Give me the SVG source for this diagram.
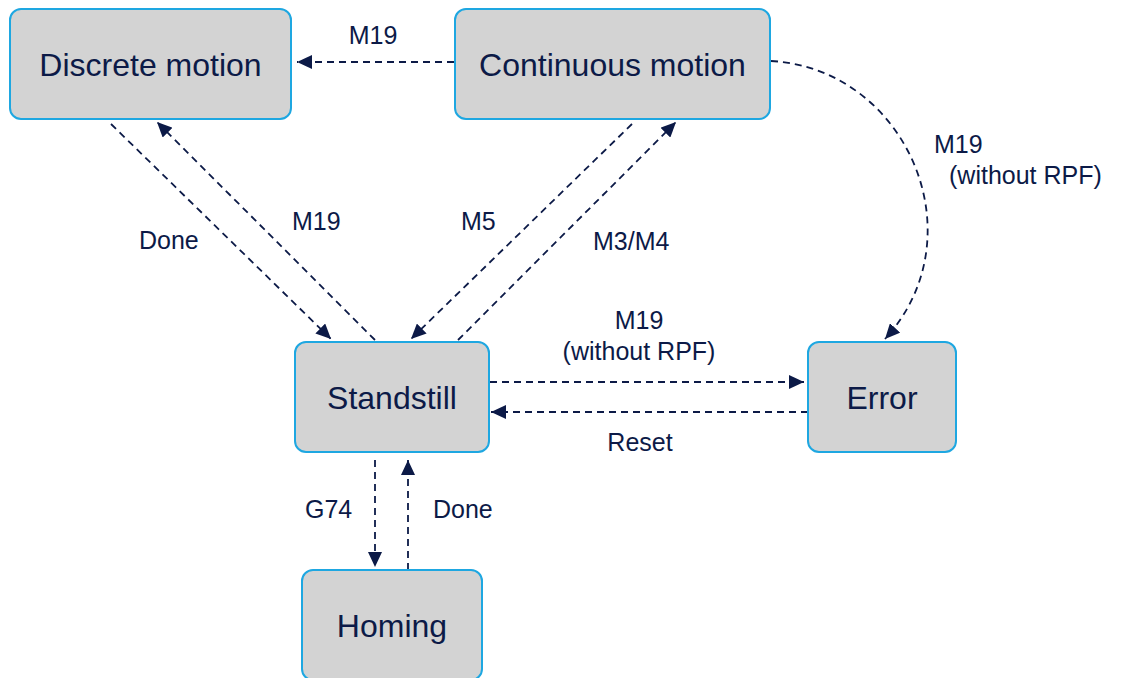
<svg xmlns="http://www.w3.org/2000/svg" width="1124" height="678" viewBox="0 0 1124 678">
<style>
.node rect{fill:#d3d3d3;stroke:#1ea7e1;stroke-width:2}
.node text{font-family:"Liberation Sans",Arial,sans-serif;font-size:32px;fill:#0c1a47;text-anchor:middle}
.lbl{font-family:"Liberation Sans",Arial,sans-serif;font-size:25px;fill:#0c1a47}
.mid{text-anchor:middle}
.conn path{fill:none;stroke:#0c1a47;stroke-width:1.8;stroke-dasharray:7 5;marker-end:url(#ah)}
</style>
<defs>
<marker id="ah" markerUnits="userSpaceOnUse" markerWidth="16" markerHeight="14" refX="15" refY="7" orient="auto">
<path d="M0,0 L15,7 L0,14 Z" fill="#0c1a47"/>
</marker>
</defs>
<rect width="1124" height="678" fill="#ffffff"/>
<g id="connectors" class="conn">
<path d="M454,62 L297,62"/>
<path d="M111,124 L331,339"/>
<path d="M375,340 L157,122"/>
<path d="M632,124 L411,339"/>
<path d="M458,340 L676,122"/>
<path d="M490,382 L804,382"/>
<path d="M808,412 L491,412"/>
<path d="M375,460 L375,567"/>
<path d="M408,570 L408,460"/>
<path d="M771,61 C905,68 980,235 885,339"/>
</g>
<g id="labels">
<text class="lbl mid" x="373" y="44">M19</text>
<text class="lbl" x="139" y="249">Done</text>
<text class="lbl" x="292" y="230">M19</text>
<text class="lbl" x="461" y="230">M5</text>
<text class="lbl" x="593" y="250">M3/M4</text>
<text class="lbl mid" x="639" y="329">M19</text>
<text class="lbl mid" x="639" y="360">(without RPF)</text>
<text class="lbl mid" x="640" y="451">Reset</text>
<text class="lbl" x="305" y="518">G74</text>
<text class="lbl" x="433" y="518">Done</text>
<text class="lbl" x="934" y="153">M19</text>
<text class="lbl" x="949" y="184">(without RPF)</text>
</g>
<g id="discrete" class="node"><rect x="10" y="9" width="281" height="110" rx="11"/><text x="150.5" y="76">Discrete motion</text></g>
<g id="continuous" class="node"><rect x="455" y="9" width="315" height="110" rx="11"/><text x="612.5" y="76">Continuous motion</text></g>
<g id="standstill" class="node"><rect x="295" y="342" width="194" height="110" rx="11"/><text x="392" y="409">Standstill</text></g>
<g id="error" class="node"><rect x="808" y="342" width="148" height="110" rx="11"/><text x="882" y="409">Error</text></g>
<g id="homing" class="node"><rect x="302" y="570" width="180" height="110" rx="11"/><text x="392" y="637">Homing</text></g>
</svg>
